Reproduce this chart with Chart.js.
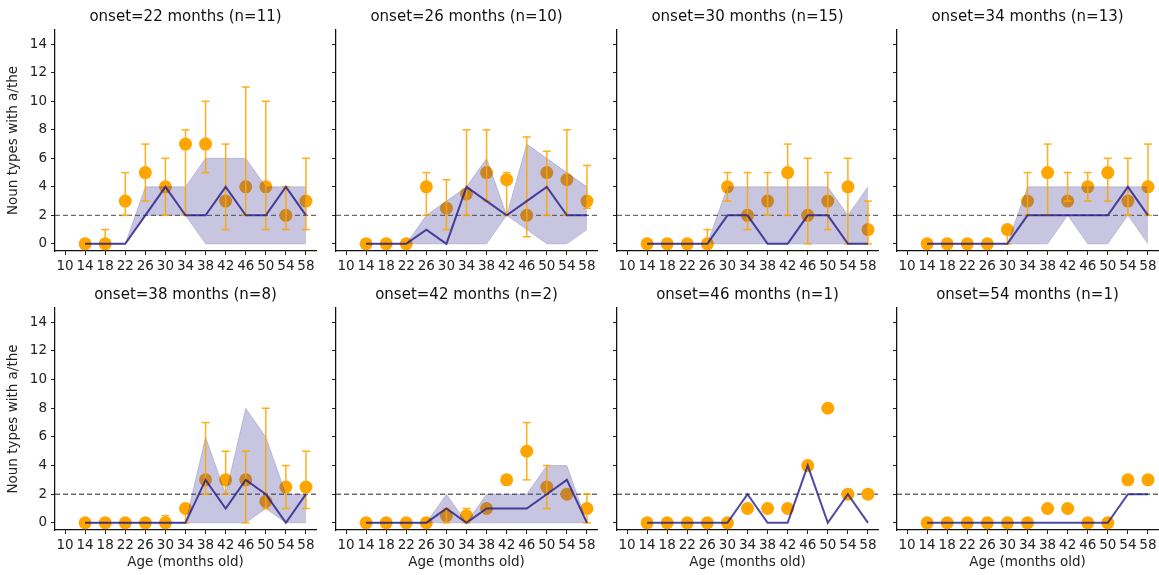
<!DOCTYPE html>
<html>
<head>
<meta charset="utf-8">
<script src="https://cdn.jsdelivr.net/npm/chart.js@4.4.1/dist/chart.umd.min.js"></script>
<style>
html,body{margin:0;padding:0;background:#fff;width:1159px;height:575px;overflow:hidden;position:relative;}
canvas{position:absolute;}
</style>
</head>
<body>
<script>
// ---------- data ----------
const ages   = [14,18,22,26,30,34,38,42,46,50,54,58];
const xTicks = [10,14,18,22,26,30,34,38,42,46,50,54,58];
const yTicks = [0,2,4,6,8,10,12,14];
const threshold = 2;
const onsets = [22,26,30,34,38,42,46,54];
const counts = [11,10,15,13,8,2,1,1];

// onset 22
const mean22   = [0,0,3,5,4,7,7,3,4,4,2,3];
const errLo22  = [null,0,2,3,2,2,5,1,2,1,1,1];
const errHi22  = [null,1,5,7,6,8,10,7,11,10,4,6];
const median22 = [0,0,0,2,4,2,2,4,2,2,4,2];
const bandLo22 = [0,0,0,2,2,2,0,0,0,0,0,0];
const bandHi22 = [0,0,0,4,4,4,6,6,6,4,4,4];
// onset 26
const mean26   = [0,0,0,4,2.5,3.5,5,4.5,2,5,4.5,3];
const errLo26  = [null,null,null,2,1,2,3,2,0.5,2,2,2.5];
const errHi26  = [null,null,null,5,4.5,8,8,5,7.5,6.5,8,5.5];
const median26 = [0,0,0,1,0,4,3,2,3,4,2,2];
const bandLo26 = [0,0,0,0,0,0,0,2,1,0,0,1];
const bandHi26 = [0,0,0,2,3,4,6,2,7,6,5,4];
// onset 30
const mean30   = [0,0,0,0,4,2,3,5,2,3,4,1];
const errLo30  = [null,null,null,0,3,1,2,2,0,1,0,0];
const errHi30  = [null,null,null,1,5,5,5,7,6,5,6,3];
const median30 = [0,0,0,0,2,2,0,0,2,2,0,0];
const bandLo30 = [0,0,0,0,0,0,0,0,0,0,0,0];
const bandHi30 = [0,0,0,0,4,4,4,4,4,4,2,4];
// onset 34
const mean34   = [0,0,0,0,1,3,5,3,4,5,3,4];
const errLo34  = [null,null,null,null,0,2,2,3,3,3,2,2];
const errHi34  = [null,null,null,null,1,5,7,5,5,6,6,7];
const median34 = [0,0,0,0,0,2,2,2,2,2,4,2];
const bandLo34 = [0,0,0,0,0,0,0,2,0,0,2,0];
const bandHi34 = [0,0,0,0,0,4,4,4,4,4,4,4];
// onset 38
const mean38   = [0,0,0,0,0,1,3,3,3,1.5,2.5,2.5];
const errLo38  = [null,null,null,null,0,0,2,2,0,1,1,1];
const errHi38  = [null,null,null,null,0.5,1,7,5,5,8,4,5];
const median38 = [0,0,0,0,0,0,3,1,3,2,0,2];
const bandLo38 = [0,0,0,0,0,0,0,0,0,1,0,0];
const bandHi38 = [0,0,0,0,0,0,6,2,8,6,2,2];
// onset 42
const mean42   = [0,0,0,0,0.5,0.5,1,3,5,2.5,2,1];
const errLo42  = [null,null,null,null,0,0,null,null,3,1,null,0];
const errHi42  = [null,null,null,null,1,1,null,null,7,4,null,2];
const median42 = [0,0,0,0,1,0,1,1,1,2,3,0];
const bandLo42 = [0,0,0,0,0,0,0,0,0,0,0,0];
const bandHi42 = [0,0,0,0,2,0,2,2,2,4,4,0];
// onset 46 (n=1)
const mean46   = [0,0,0,0,0,1,1,1,4,8,2,2];
const median46 = [0,0,0,0,0,2,0,0,4,0,2,0];
// onset 54 (n=1)
const mean54   = [0,0,0,0,0,0,1,1,0,0,3,3];
const median54 = [0,0,0,0,0,0,0,0,0,0,2,2];

const panels = [
  {mean:mean22, errLo:errLo22, errHi:errHi22, median:median22, bandLo:bandLo22, bandHi:bandHi22},
  {mean:mean26, errLo:errLo26, errHi:errHi26, median:median26, bandLo:bandLo26, bandHi:bandHi26},
  {mean:mean30, errLo:errLo30, errHi:errHi30, median:median30, bandLo:bandLo30, bandHi:bandHi30},
  {mean:mean34, errLo:errLo34, errHi:errHi34, median:median34, bandLo:bandLo34, bandHi:bandHi34},
  {mean:mean38, errLo:errLo38, errHi:errHi38, median:median38, bandLo:bandLo38, bandHi:bandHi38},
  {mean:mean42, errLo:errLo42, errHi:errHi42, median:median42, bandLo:bandLo42, bandHi:bandHi42},
  {mean:mean46, errLo:null, errHi:null, median:median46, bandLo:null, bandHi:null},
  {mean:mean54, errLo:null, errHi:null, median:median54, bandLo:null, bandHi:null}
];

// ---------- layout / style ----------
const FONT = 'DejaVu Sans';
Chart.defaults.font.family = FONT;
Chart.defaults.color = '#222';
const xMin = 8, xMax = 60, yMin = -0.5, yMax = 15;
const colLeft = [55, 336, 617, 897];
const plotW = 261;
const yAxisW = 55;
const rightPad = 8;
const rows = [
  {canvasTop: 0,   titleH: 30, plotH: 221, xAxisH: 28},
  {canvasTop: 278, titleH: 30, plotH: 222, xAxisH: 45}
];
const ORANGE = 'rgb(255,165,0)';
const ERR = 'rgba(255,165,0,0.88)';
const BAND_FILL = 'rgba(70,62,150,0.30)';
const BAND_EDGE = 'rgba(70,62,150,0.22)';
const LINE = 'rgba(35,28,135,0.8)';

const pts = (arr) => ages.map((a, j) => ({x: a, y: arr[j]}));

panels.forEach((p, i) => {
  const col = i % 4, row = Math.floor(i / 4);
  const R = rows[row];
  const cv = document.createElement('canvas');
  const W = yAxisW + plotW + rightPad;
  const H = R.titleH + R.plotH + R.xAxisH;
  cv.width = W; cv.height = H;
  cv.style.left = (colLeft[col] - yAxisW) + 'px';
  cv.style.top = R.canvasTop + 'px';
  cv.style.width = W + 'px'; cv.style.height = H + 'px';
  document.body.appendChild(cv);

  const datasets = [];
  datasets.push({
    type: 'line', data: [{x: xMin, y: threshold}, {x: xMax, y: threshold}],
    borderColor: 'rgba(70,70,70,0.8)', borderDash: [5, 3], borderWidth: 1.4,
    pointRadius: 0, fill: false, order: 10
  });
  datasets.push({
    type: 'line', data: pts(p.mean), showLine: false,
    pointRadius: 6.5, pointBackgroundColor: ORANGE, pointBorderWidth: 0,
    pointHoverRadius: 6.5, order: 9
  });
  if (p.bandLo) {
    datasets.push({
      type: 'line', data: pts(p.bandLo), borderColor: BAND_EDGE, borderWidth: 1,
      pointRadius: 0, fill: false, tension: 0, order: 8
    });
    datasets.push({
      type: 'line', data: pts(p.bandHi), borderColor: BAND_EDGE, borderWidth: 1,
      pointRadius: 0, fill: '-1', backgroundColor: BAND_FILL, tension: 0, order: 8
    });
  }
  if (p.errLo) {
    const eb = [];
    ages.forEach((a, j) => {
      if (p.errLo[j] !== null && p.errHi[j] !== null) {
        eb.push({x: a, y: p.errLo[j]}, {x: a, y: p.errHi[j]}, {x: a, y: null});
      }
    });
    datasets.push({
      type: 'line', data: eb, borderColor: ERR, borderWidth: 1.5, spanGaps: false,
      pointStyle: 'line', pointRadius: 4, pointBorderColor: ERR, pointBorderWidth: 1.5,
      pointBackgroundColor: ERR, fill: false, order: 7
    });
  }
  datasets.push({
    type: 'line', data: pts(p.median), borderColor: LINE, borderWidth: 2,
    pointRadius: 0, fill: false, tension: 0, order: 1
  });

  new Chart(cv, {
    type: 'line',
    data: {datasets},
    options: {
      responsive: false, animation: false, devicePixelRatio: 1,
      layout: {padding: {left: 0, right: rightPad, top: 0, bottom: 0}},
      plugins: {
        legend: {display: false}, tooltip: {enabled: false},
        title: {
          display: true, fullSize: false,
          text: `onset=${onsets[i]} months (n=${counts[i]})`,
          font: {family: FONT, size: 15, weight: 'normal', lineHeight: 1.2},
          color: '#111', padding: {top: 8.5, bottom: 3.5}
        }
      },
      scales: {
        x: {
          type: 'linear', min: xMin, max: xMax,
          afterBuildTicks: s => { s.ticks = xTicks.map(v => ({value: v})); },
          afterFit: s => { s.height = R.xAxisH; },
          ticks: {autoSkip: false, maxRotation: 0, padding: 3, color: '#222',
                  font: {family: FONT, size: 13.5}, callback: v => String(v)},
          grid: {display: true, drawOnChartArea: false, drawTicks: true, tickLength: 4, color: '#222', lineWidth: 1},
          border: {display: true, color: '#111', width: 1.25},
          title: {display: row === 1, text: 'Age (months old)', color: '#222',
                  font: {family: FONT, size: 13.5, lineHeight: 1.85}, padding: 0}
        },
        y: {
          type: 'linear', min: yMin, max: yMax,
          afterBuildTicks: s => { s.ticks = yTicks.map(v => ({value: v})); },
          afterFit: s => { s.width = yAxisW; },
          ticks: {display: col === 0, padding: 4, color: '#222',
                  font: {family: FONT, size: 13.5}, callback: v => String(v)},
          grid: {display: true, drawOnChartArea: false, drawTicks: true, tickLength: 4, color: '#222', lineWidth: 1},
          border: {display: true, color: '#111', width: 1.25},
          title: {display: col === 0, text: 'Noun types with a/the', color: '#222',
                  font: {family: FONT, size: 13.5, lineHeight: 2}, padding: 0}
        }
      }
    }
  });
});
</script>
</body>
</html>
